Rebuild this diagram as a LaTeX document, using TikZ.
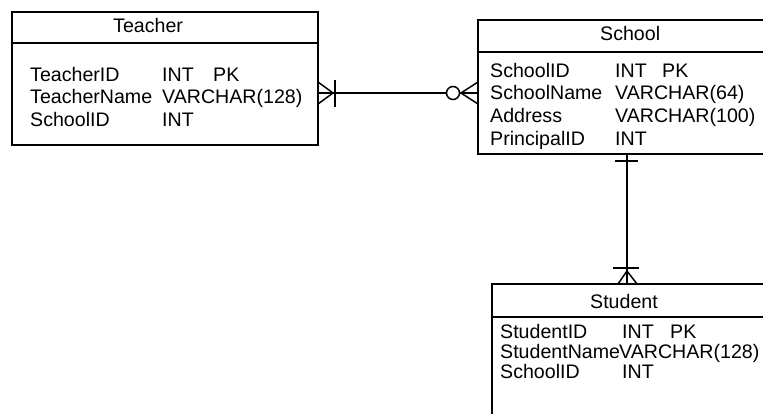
\documentclass[tikz,border=0pt]{standalone}
\usepackage{fontspec}
\setmainfont{Liberation Sans}
\begin{document}
\begin{tikzpicture}[x=1pt,y=-1pt,
  box/.style={draw, line width=1.7pt, rectangle, anchor=north west, inner sep=0pt, outer sep=0pt},
  sep/.style={line width=1.7pt},
  txt/.style={anchor=base west, inner sep=0pt, font=\fontsize{19.6}{22}\selectfont},
  rel/.style={line width=1.5pt}]
\useasboundingbox (0,0) rectangle (763,414);
\begin{scope}
\clip (0,0) rectangle (763,414);
% Teacher
\node[box, minimum width=306pt, minimum height=133pt] (teacher) at (12,12) {};
\draw[sep] (12,43) -- (318,43);
\node[txt] (th) at (113,33) {Teacher};
\node[txt] (t1) at (30,82) {TeacherID};
\node[txt] (t1t) at (162,82) {INT};
\node[txt] (t1k) at (213,82) {PK};
\node[txt] (t2) at (30,104) {TeacherName};
\node[txt] (t2t) at (162,104) {VARCHAR(128)};
\node[txt] (t3) at (30,127) {SchoolID};
\node[txt] (t3t) at (162,127) {INT};
% School
\node[box, minimum width=320pt, minimum height=134pt] (school) at (478,20) {};
\draw[sep] (478,52) -- (800,52);
\node[txt] (sh) at (600,41) {School};
\node[txt] (s1) at (490,78) {SchoolID};
\node[txt] (s1t) at (615,78) {INT};
\node[txt] (s1k) at (662,78) {PK};
\node[txt] (s2) at (490,100) {SchoolName};
\node[txt] (s2t) at (615,100) {VARCHAR(64)};
\node[txt] (s3) at (490,123) {Address};
\node[txt] (s3t) at (615,123) {VARCHAR(100)};
\node[txt] (s4) at (490,146) {PrincipalID};
\node[txt] (s4t) at (615,146) {INT};
% Student
\node[box, minimum width=320pt, minimum height=200pt] (student) at (492,284) {};
\draw[sep] (492,317) -- (800,317);
\node[txt] (uh) at (590,308) {Student};
\node[txt] (u1) at (500,338) {StudentID};
\node[txt] (u1t) at (622,338) {INT};
\node[txt] (u1k) at (670,338) {PK};
\node[txt] (u2) at (500,358) {StudentName};
\node[txt] (u2t) at (619,358) {VARCHAR(128)};
\node[txt] (u3) at (500,378) {SchoolID};
\node[txt] (u3t) at (622,378) {INT};
% Teacher -- School
\coordinate (ts) at (teacher.north east |- 0,93);
\coordinate (st) at (school.north west |- 0,93);
\coordinate (circ) at (453,93);
\draw[rel] (ts) -- ([xshift=-6.5pt]circ);
\draw[rel] (318,82) -- (333,93) -- (318,104);
\draw[rel] (335,80) -- (335,107);
\draw[rel] (circ) circle (6.5pt);
\draw[rel] ([xshift=6.5pt]circ) -- (st);
\draw[rel] (478,82) -- (461,93) -- (478,104);
% School -- Student
\coordinate (sb) at (school.south west -| 627,0);
\coordinate (ut) at (student.north west -| 627,0);
\draw[rel] (sb) -- (ut);
\draw[rel] (615,161) -- (638,161);
\draw[rel] (613,268) -- (639,268);
\draw[rel] (618,284) -- (627,271) -- (637,284);
\end{scope}
\end{tikzpicture}
\end{document}
